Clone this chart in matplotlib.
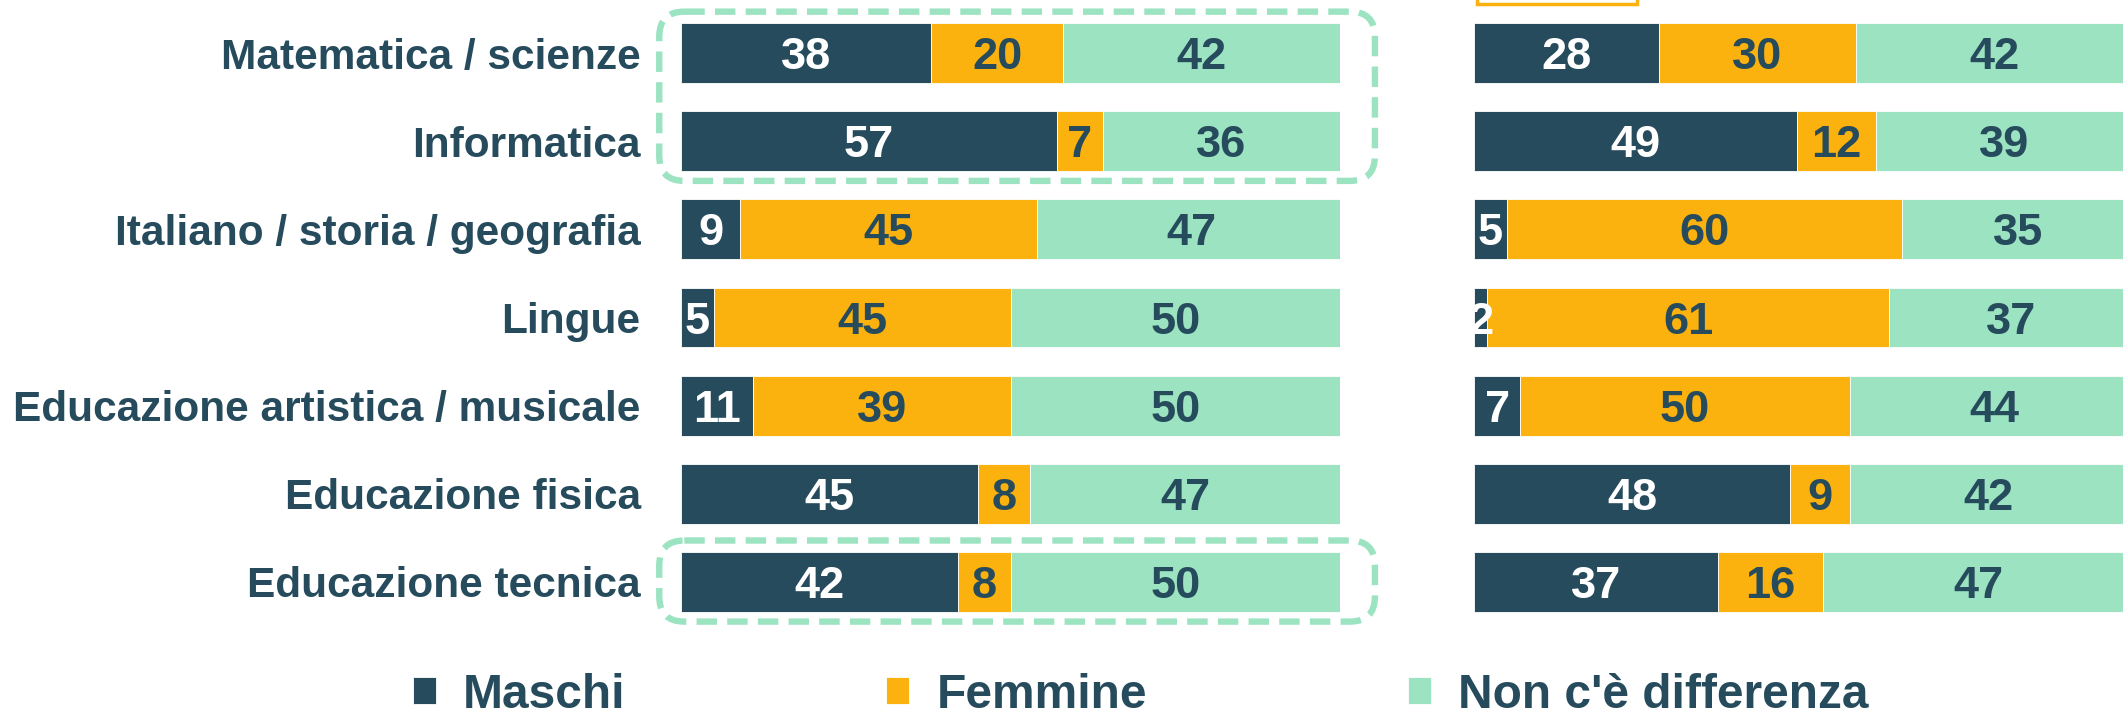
import matplotlib
matplotlib.use("Agg")
import numpy as np
import matplotlib.pyplot as plt
from matplotlib import font_manager
from matplotlib.patches import FancyBboxPatch, Rectangle

# ── data ──────────────────────────────────────────────────────────────────────
CATEGORIES = ["Matematica / scienze", "Informatica", "Italiano / storia / geografia",
              "Lingue", "Educazione artistica / musicale", "Educazione fisica",
              "Educazione tecnica"]
SERIES = ["Maschi", "Femmine", "Non c'è differenza"]

LEFT_MASCHI  = [38, 57, 9, 5, 11, 45, 42]
LEFT_FEMMINE = [20, 7, 45, 45, 39, 8, 8]
LEFT_NODIFF  = [42, 36, 47, 50, 50, 47, 50]

RIGHT_MASCHI  = [28, 49, 5, 2, 7, 48, 37]
RIGHT_FEMMINE = [30, 12, 60, 61, 50, 9, 16]
RIGHT_NODIFF  = [42, 39, 35, 37, 44, 42, 47]

HIGHLIGHT_ROWS = [(0, 1), (6, 6)]

# ── style ─────────────────────────────────────────────────────────────────────
DARK, ORANGE, MINT = "#264B5C", "#FCB20E", "#9CE3C2"
COLORS = [DARK, ORANGE, MINT]
TEXT_COLORS = ["white", DARK, DARK]

names = {f.name for f in font_manager.fontManager.ttflist}
FONT = "Liberation Sans Narrow" if "Liberation Sans Narrow" in names else "Liberation Sans"
plt.rcParams["font.family"] = [FONT, "DejaVu Sans"]
plt.rcParams["font.weight"] = "bold"

W, H, DPI = 2123, 715, 100
fig = plt.figure(figsize=(W / DPI, H / DPI), dpi=DPI)

# axes geometry (pixels)
x0_left, x0_right, span = 681, 1474, 659
top, bottom = 9, 626
ax_l = fig.add_axes([x0_left / W, 1 - bottom / H, span / W, (bottom - top) / H])
ax_r = fig.add_axes([x0_right / W, 1 - bottom / H, span / W, (bottom - top) / H])


def stacked(ax, cols):
    y = np.arange(len(CATEGORIES))
    left = np.zeros(len(y))
    handles = []
    for vals, c, tc in zip(cols, COLORS, TEXT_COLORS):
        vals = np.array(vals, dtype=float)
        b = ax.barh(y, vals, left=left, height=0.68, color=c,
                    edgecolor="white", linewidth=0.6)
        handles.append(b)
        for yi, (l, v) in enumerate(zip(left, vals)):
            ax.text(l + v / 2, yi, f"{v:.0f}", ha="center", va="center_baseline",
                    color=tc, fontsize=32.5, fontweight="bold")
        left += vals
    ax.set_xlim(0, 100)
    ax.set_ylim(len(y) - 0.5, -0.5)
    for s in ax.spines.values():
        s.set_visible(False)
    ax.set_xticks([])
    ax.set_yticks(y)
    ax.tick_params(length=0)
    return handles


handles = stacked(ax_l, [LEFT_MASCHI, LEFT_FEMMINE, LEFT_NODIFF])
stacked(ax_r, [RIGHT_MASCHI, RIGHT_FEMMINE, RIGHT_NODIFF])
ax_l.set_yticklabels(CATEGORIES, fontsize=30.5, color=DARK, fontweight="bold")
ax_l.tick_params(axis="y", pad=29)
ax_r.set_yticklabels([])

# ── dashed highlight boxes (left panel) ──────────────────────────────────────
px_x = span / 100.0
px_y = (bottom - top) / len(CATEGORIES)
aspect = px_x / px_y
for r0, r1 in HIGHLIGHT_ROWS:
    xa, xb = -3.3, 105.3
    ya, yb = r0 - 0.47, r1 + 0.45
    box = FancyBboxPatch((xa, ya), xb - xa, yb - ya,
                         boxstyle="round,pad=0,rounding_size=3.8",
                         mutation_aspect=aspect, fill=False, edgecolor=MINT,
                         linewidth=4.6, linestyle=(0, (3.2, 1.6)), clip_on=False)
    ax_l.add_patch(box)

# small orange tag at the top of the right panel (cut off)
fig.patches.append(Rectangle((1477 / W, 1 - 4 / H), 160 / W, 0.2,
                             transform=fig.transFigure, facecolor="white",
                             edgecolor=ORANGE, linewidth=2.5))

# ── legend ───────────────────────────────────────────────────────────────────
fig.legend([h[0] for h in handles], SERIES, loc="center left",
           bbox_to_anchor=(413 / W, 1 - 695 / H), ncol=3, frameon=False,
           labelcolor=DARK, handlelength=0.48, handleheight=0.48,
           handletextpad=0.56, columnspacing=5.45, borderpad=0, borderaxespad=0,
           prop={"weight": "bold", "size": 34.5})

fig.savefig("out.png", dpi=DPI)
